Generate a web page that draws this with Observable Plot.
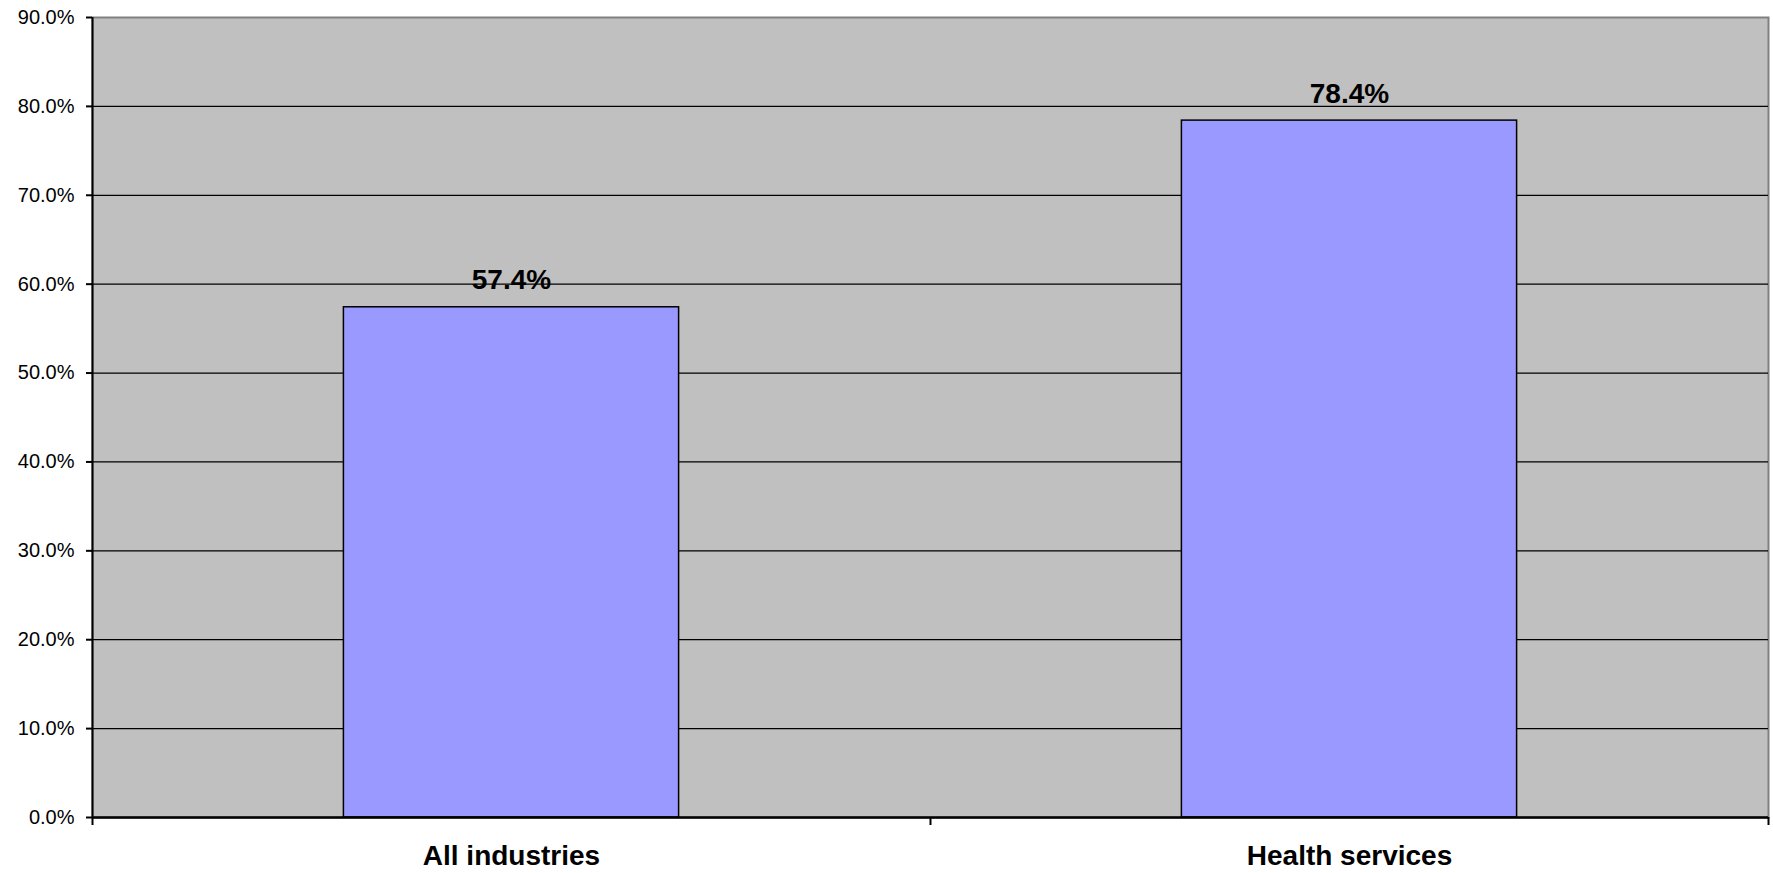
<!DOCTYPE html>
<html><head><meta charset="utf-8">
<script src="https://cdn.jsdelivr.net/npm/d3@7"></script>
<script src="https://cdn.jsdelivr.net/npm/@observablehq/plot@0.6"></script>
<style>body{margin:0;background:#fff}</style>
</head><body><div id="chart"></div>
<script>
const categories = ["All industries", "Health services"];
const values = [57.4, 78.4];
const valueLabels = ["57.4%", "78.4%"];
const yTicks = [0, 10, 20, 30, 40, 50, 60, 70, 80, 90];

const data = categories.map((c, i) => ({i, category: c, value: values[i], label: valueLabels[i]}));

const chart = Plot.plot({
  width: 1773, height: 873,
  marginLeft: 92, marginRight: 5, marginTop: 17, marginBottom: 56,
  style: {fontFamily: "Arial, 'Liberation Sans', sans-serif", background: "white", color: "black", overflow: "visible"},
  x: {domain: [0, categories.length], axis: null},
  y: {domain: [0, 90], axis: null},
  marks: [
    Plot.frame({fill: "#C0C0C0", stroke: "#808080", strokeWidth: 2}),
    Plot.ruleY(yTicks.filter(d => d > 0 && d < 90), {stroke: "black", strokeWidth: 1.3}),
    Plot.rectY(data, {x1: d => d.i + 0.3, x2: d => d.i + 0.7, y: "value", fill: "#9999FF", stroke: "black", strokeWidth: 1.5}),
    Plot.text(data, {x: d => d.i + 0.5, y: "value", text: "label", dy: -27, fontSize: 28, fontWeight: "bold", fill: "black"}),
    Plot.ruleX([0], {stroke: "black", strokeWidth: 2}),
    Plot.ruleY([0], {stroke: "black", strokeWidth: 2.5}),
    Plot.axisY({ticks: yTicks, tickFormat: d => d.toFixed(1) + "%", tickSize: 6, tickPadding: 12, fontSize: 20, strokeWidth: 2, label: null}),
    Plot.axisX({ticks: d3.range(categories.length + 1), tickFormat: () => "", tickSize: 8, strokeWidth: 2, label: null}),
    Plot.axisX({ticks: categories.map((c, i) => i + 0.5), tickFormat: d => categories[Math.floor(d)], tickSize: 0, tickPadding: 28, fontSize: 28, fontWeight: "bold", label: null})
  ]
});
document.getElementById("chart").appendChild(chart);
</script>
</body></html>
